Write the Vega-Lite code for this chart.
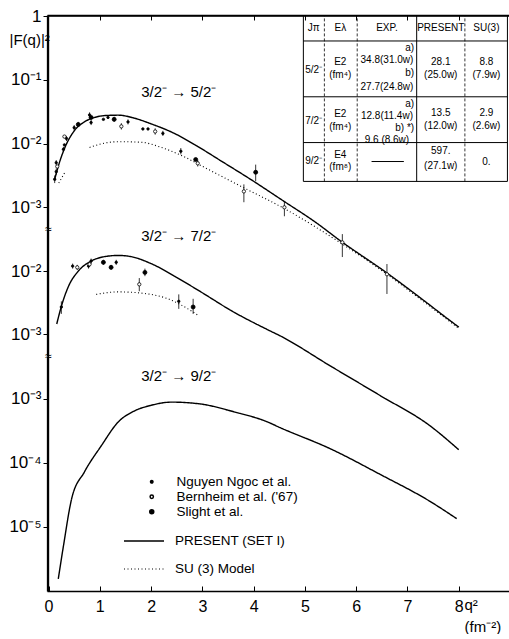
{
  "$schema": "https://vega.github.io/schema/vega-lite/v6.json",
  "background": "white",
  "padding": {"left": 8, "top": 7, "right": 0, "bottom": 0},
  "spacing": 0,
  "bounds": "flush",
  "config": {
    "view": {"stroke": null},
    "font": "Liberation Sans",
    "axis": {"domain": true, "ticks": true, "domainColor": "black", "tickColor": "black", "labelColor": "black", "titleColor": "black", "grid": false, "labelFont": "Liberation Sans", "titleFont": "Liberation Sans", "domainWidth": 1.3, "tickWidth": 1},
    "text": {"font": "Liberation Sans", "color": "black"},
    "legend": {"padding": 0, "labelFont": "Liberation Sans", "labelColor": "black"}
  },
  "datasets": {
    "curves": [
      {"panel": "5/2", "model": "PRESENT (SET I)", "seg": 1, "q2": 0.12, "F": 0.00275},
      {"panel": "5/2", "model": "PRESENT (SET I)", "seg": 1, "q2": 0.2, "F": 0.00468},
      {"panel": "5/2", "model": "PRESENT (SET I)", "seg": 1, "q2": 0.31, "F": 0.00832},
      {"panel": "5/2", "model": "PRESENT (SET I)", "seg": 1, "q2": 0.5, "F": 0.0158},
      {"panel": "5/2", "model": "PRESENT (SET I)", "seg": 1, "q2": 0.7, "F": 0.0219},
      {"panel": "5/2", "model": "PRESENT (SET I)", "seg": 1, "q2": 0.9, "F": 0.0257},
      {"panel": "5/2", "model": "PRESENT (SET I)", "seg": 1, "q2": 1.1, "F": 0.0275},
      {"panel": "5/2", "model": "PRESENT (SET I)", "seg": 1, "q2": 1.36, "F": 0.0279},
      {"panel": "5/2", "model": "PRESENT (SET I)", "seg": 1, "q2": 1.67, "F": 0.0251},
      {"panel": "5/2", "model": "PRESENT (SET I)", "seg": 1, "q2": 2.0, "F": 0.0204},
      {"panel": "5/2", "model": "PRESENT (SET I)", "seg": 1, "q2": 2.45, "F": 0.0145},
      {"panel": "5/2", "model": "PRESENT (SET I)", "seg": 1, "q2": 2.9, "F": 0.0091},
      {"panel": "5/2", "model": "PRESENT (SET I)", "seg": 1, "q2": 3.4, "F": 0.00513},
      {"panel": "5/2", "model": "PRESENT (SET I)", "seg": 1, "q2": 3.94, "F": 0.00275},
      {"panel": "5/2", "model": "PRESENT (SET I)", "seg": 1, "q2": 4.58, "F": 0.00126},
      {"panel": "5/2", "model": "PRESENT (SET I)", "seg": 1, "q2": 5.2, "F": 0.000589},
      {"panel": "5/2", "model": "PRESENT (SET I)", "seg": 1, "q2": 5.7, "F": 0.000295},
      {"panel": "5/2", "model": "PRESENT (SET I)", "seg": 1, "q2": 6.6, "F": 0.0000933},
      {"panel": "5/2", "model": "PRESENT (SET I)", "seg": 1, "q2": 7.3, "F": 0.0000355},
      {"panel": "5/2", "model": "PRESENT (SET I)", "seg": 1, "q2": 7.77, "F": 0.0000182},
      {"panel": "5/2", "model": "PRESENT (SET I)", "seg": 1, "q2": 8.0, "F": 0.0000132},
      {"panel": "5/2", "model": "SU (3) Model", "seg": 1, "q2": 0.2, "F": 0.0024},
      {"panel": "5/2", "model": "SU (3) Model", "seg": 1, "q2": 0.32, "F": 0.00355},
      {"panel": "5/2", "model": "SU (3) Model", "seg": 2, "q2": 0.8, "F": 0.0087},
      {"panel": "5/2", "model": "SU (3) Model", "seg": 2, "q2": 1.0, "F": 0.00977},
      {"panel": "5/2", "model": "SU (3) Model", "seg": 2, "q2": 1.36, "F": 0.0107},
      {"panel": "5/2", "model": "SU (3) Model", "seg": 2, "q2": 1.8, "F": 0.0105},
      {"panel": "5/2", "model": "SU (3) Model", "seg": 2, "q2": 2.2, "F": 0.0087},
      {"panel": "5/2", "model": "SU (3) Model", "seg": 2, "q2": 2.6, "F": 0.00646},
      {"panel": "5/2", "model": "SU (3) Model", "seg": 2, "q2": 3.03, "F": 0.00427},
      {"panel": "5/2", "model": "SU (3) Model", "seg": 2, "q2": 3.75, "F": 0.00214},
      {"panel": "5/2", "model": "SU (3) Model", "seg": 2, "q2": 4.6, "F": 0.000955},
      {"panel": "5/2", "model": "SU (3) Model", "seg": 2, "q2": 5.7, "F": 0.000275},
      {"panel": "5/2", "model": "SU (3) Model", "seg": 2, "q2": 6.6, "F": 0.0000891},
      {"panel": "5/2", "model": "SU (3) Model", "seg": 2, "q2": 7.3, "F": 0.0000339},
      {"panel": "5/2", "model": "SU (3) Model", "seg": 2, "q2": 8.0, "F": 0.0000126},
      {"panel": "7/2", "model": "PRESENT (SET I)", "seg": 1, "q2": 0.16, "F": 0.001445},
      {"panel": "7/2", "model": "PRESENT (SET I)", "seg": 1, "q2": 0.25, "F": 0.00275},
      {"panel": "7/2", "model": "PRESENT (SET I)", "seg": 1, "q2": 0.39, "F": 0.00575},
      {"panel": "7/2", "model": "PRESENT (SET I)", "seg": 1, "q2": 0.58, "F": 0.01},
      {"panel": "7/2", "model": "PRESENT (SET I)", "seg": 1, "q2": 0.83, "F": 0.01445},
      {"panel": "7/2", "model": "PRESENT (SET I)", "seg": 1, "q2": 1.09, "F": 0.017},
      {"panel": "7/2", "model": "PRESENT (SET I)", "seg": 1, "q2": 1.36, "F": 0.01778},
      {"panel": "7/2", "model": "PRESENT (SET I)", "seg": 1, "q2": 1.61, "F": 0.017},
      {"panel": "7/2", "model": "PRESENT (SET I)", "seg": 1, "q2": 2.0, "F": 0.01318},
      {"panel": "7/2", "model": "PRESENT (SET I)", "seg": 1, "q2": 2.52, "F": 0.00776},
      {"panel": "7/2", "model": "PRESENT (SET I)", "seg": 1, "q2": 2.97, "F": 0.00468},
      {"panel": "7/2", "model": "PRESENT (SET I)", "seg": 1, "q2": 3.61, "F": 0.00224},
      {"panel": "7/2", "model": "PRESENT (SET I)", "seg": 1, "q2": 4.27, "F": 0.001175},
      {"panel": "7/2", "model": "PRESENT (SET I)", "seg": 1, "q2": 4.52, "F": 0.000933},
      {"panel": "7/2", "model": "PRESENT (SET I)", "seg": 1, "q2": 5.5, "F": 0.000309},
      {"panel": "7/2", "model": "PRESENT (SET I)", "seg": 1, "q2": 6.47, "F": 0.0001047},
      {"panel": "7/2", "model": "PRESENT (SET I)", "seg": 1, "q2": 7.44, "F": 0.0000347},
      {"panel": "7/2", "model": "PRESENT (SET I)", "seg": 1, "q2": 8.0, "F": 0.00001445},
      {"panel": "7/2", "model": "SU (3) Model", "seg": 1, "q2": 0.93, "F": 0.00427},
      {"panel": "7/2", "model": "SU (3) Model", "seg": 1, "q2": 1.36, "F": 0.00468},
      {"panel": "7/2", "model": "SU (3) Model", "seg": 1, "q2": 1.81, "F": 0.00447},
      {"panel": "7/2", "model": "SU (3) Model", "seg": 1, "q2": 2.33, "F": 0.00363},
      {"panel": "7/2", "model": "SU (3) Model", "seg": 1, "q2": 2.78, "F": 0.00234},
      {"panel": "7/2", "model": "SU (3) Model", "seg": 1, "q2": 2.93, "F": 0.00195},
      {"panel": "9/2", "model": "PRESENT (SET I)", "seg": 1, "q2": 0.19, "F": 0.00000155},
      {"panel": "9/2", "model": "PRESENT (SET I)", "seg": 1, "q2": 0.29, "F": 0.00000501},
      {"panel": "9/2", "model": "PRESENT (SET I)", "seg": 1, "q2": 0.45, "F": 0.0000275},
      {"panel": "9/2", "model": "PRESENT (SET I)", "seg": 1, "q2": 0.7, "F": 0.0000724},
      {"panel": "9/2", "model": "PRESENT (SET I)", "seg": 1, "q2": 1.03, "F": 0.000186},
      {"panel": "9/2", "model": "PRESENT (SET I)", "seg": 1, "q2": 1.36, "F": 0.000437},
      {"panel": "9/2", "model": "PRESENT (SET I)", "seg": 1, "q2": 1.67, "F": 0.000646},
      {"panel": "9/2", "model": "PRESENT (SET I)", "seg": 1, "q2": 2.0, "F": 0.000794},
      {"panel": "9/2", "model": "PRESENT (SET I)", "seg": 1, "q2": 2.4, "F": 0.000891},
      {"panel": "9/2", "model": "PRESENT (SET I)", "seg": 1, "q2": 2.97, "F": 0.000832},
      {"panel": "9/2", "model": "PRESENT (SET I)", "seg": 1, "q2": 3.61, "F": 0.000631},
      {"panel": "9/2", "model": "PRESENT (SET I)", "seg": 1, "q2": 4.27, "F": 0.000437},
      {"panel": "9/2", "model": "PRESENT (SET I)", "seg": 1, "q2": 4.52, "F": 0.000355},
      {"panel": "9/2", "model": "PRESENT (SET I)", "seg": 1, "q2": 5.5, "F": 0.000166},
      {"panel": "9/2", "model": "PRESENT (SET I)", "seg": 1, "q2": 6.47, "F": 0.0000661},
      {"panel": "9/2", "model": "PRESENT (SET I)", "seg": 1, "q2": 7.44, "F": 0.0000251},
      {"panel": "9/2", "model": "PRESENT (SET I)", "seg": 1, "q2": 7.96, "F": 0.0000135}
    ],
    "points": [
      {"panel": "5/2", "source": "Nguyen Ngoc et al.", "q2": 0.12, "F": 0.00275, "lo": 0.0024, "hi": 0.00316},
      {"panel": "5/2", "source": "Nguyen Ngoc et al.", "q2": 0.15, "F": 0.00363, "lo": 0.00324, "hi": 0.00407},
      {"panel": "5/2", "source": "Bernheim et al. ('67)", "q2": 0.17, "F": 0.00437},
      {"panel": "5/2", "source": "Nguyen Ngoc et al.", "q2": 0.15, "F": 0.00501, "lo": 0.00457, "hi": 0.0055},
      {"panel": "5/2", "source": "Nguyen Ngoc et al.", "q2": 0.29, "F": 0.00813, "lo": 0.00741, "hi": 0.00891},
      {"panel": "5/2", "source": "Nguyen Ngoc et al.", "q2": 0.31, "F": 0.00955},
      {"panel": "5/2", "source": "Nguyen Ngoc et al.", "q2": 0.35, "F": 0.01202, "lo": 0.01096, "hi": 0.01318},
      {"panel": "5/2", "source": "Bernheim et al. ('67)", "q2": 0.31, "F": 0.01288},
      {"panel": "5/2", "source": "Nguyen Ngoc et al.", "q2": 0.5, "F": 0.01778, "lo": 0.01622, "hi": 0.0195},
      {"panel": "5/2", "source": "Slight et al.", "q2": 0.58, "F": 0.01995, "lo": 0.0182, "hi": 0.02188},
      {"panel": "5/2", "source": "Nguyen Ngoc et al.", "q2": 0.8, "F": 0.02818, "lo": 0.0257, "hi": 0.0309},
      {"panel": "5/2", "source": "Slight et al.", "q2": 0.83, "F": 0.0257},
      {"panel": "5/2", "source": "Nguyen Ngoc et al.", "q2": 0.83, "F": 0.02138, "lo": 0.0195, "hi": 0.02344},
      {"panel": "5/2", "source": "Nguyen Ngoc et al.", "q2": 1.07, "F": 0.02399},
      {"panel": "5/2", "source": "Nguyen Ngoc et al.", "q2": 1.16, "F": 0.0257},
      {"panel": "5/2", "source": "Slight et al.", "q2": 1.28, "F": 0.02399, "lo": 0.02188, "hi": 0.0263},
      {"panel": "5/2", "source": "Bernheim et al. ('67)", "q2": 1.42, "F": 0.01862, "lo": 0.0166, "hi": 0.02089},
      {"panel": "5/2", "source": "Nguyen Ngoc et al.", "q2": 1.55, "F": 0.02188, "lo": 0.01995, "hi": 0.02399},
      {"panel": "5/2", "source": "Nguyen Ngoc et al.", "q2": 1.84, "F": 0.01698},
      {"panel": "5/2", "source": "Nguyen Ngoc et al.", "q2": 1.94, "F": 0.01698},
      {"panel": "5/2", "source": "Bernheim et al. ('67)", "q2": 2.08, "F": 0.01549, "lo": 0.0138, "hi": 0.01738},
      {"panel": "5/2", "source": "Nguyen Ngoc et al.", "q2": 2.23, "F": 0.01445, "lo": 0.01318, "hi": 0.01585},
      {"panel": "5/2", "source": "Nguyen Ngoc et al.", "q2": 2.58, "F": 0.00759, "lo": 0.00676, "hi": 0.00851},
      {"panel": "5/2", "source": "Slight et al.", "q2": 2.87, "F": 0.00562},
      {"panel": "5/2", "source": "Bernheim et al. ('67)", "q2": 2.91, "F": 0.0049, "lo": 0.00437, "hi": 0.0055},
      {"panel": "5/2", "source": "Bernheim et al. ('67)", "q2": 3.81, "F": 0.001778, "lo": 0.001202, "hi": 0.002291},
      {"panel": "5/2", "source": "Slight et al.", "q2": 4.04, "F": 0.003548, "lo": 0.00257, "hi": 0.004677},
      {"panel": "5/2", "source": "Bernheim et al. ('67)", "q2": 4.6, "F": 0.001, "lo": 0.000724, "hi": 0.00123},
      {"panel": "5/2", "source": "Bernheim et al. ('67)", "q2": 5.73, "F": 0.000282, "lo": 0.000166, "hi": 0.00038},
      {"panel": "5/2", "source": "Bernheim et al. ('67)", "q2": 6.6, "F": 0.0000891, "lo": 0.0000437, "hi": 0.000129},
      {"panel": "7/2", "source": "Nguyen Ngoc et al.", "q2": 0.25, "F": 0.00269, "lo": 0.00209, "hi": 0.00331},
      {"panel": "7/2", "source": "Nguyen Ngoc et al.", "q2": 0.47, "F": 0.01202, "lo": 0.01096, "hi": 0.01318},
      {"panel": "7/2", "source": "Bernheim et al. ('67)", "q2": 0.56, "F": 0.01148, "lo": 0.01047, "hi": 0.01259},
      {"panel": "7/2", "source": "Nguyen Ngoc et al.", "q2": 0.78, "F": 0.01202, "lo": 0.01096, "hi": 0.01318},
      {"panel": "7/2", "source": "Bernheim et al. ('67)", "q2": 0.8, "F": 0.01288},
      {"panel": "7/2", "source": "Nguyen Ngoc et al.", "q2": 0.83, "F": 0.01445, "lo": 0.01318, "hi": 0.01585},
      {"panel": "7/2", "source": "Slight et al.", "q2": 1.07, "F": 0.0138, "lo": 0.01259, "hi": 0.01514},
      {"panel": "7/2", "source": "Slight et al.", "q2": 1.22, "F": 0.01148, "lo": 0.01047, "hi": 0.01259},
      {"panel": "7/2", "source": "Nguyen Ngoc et al.", "q2": 1.32, "F": 0.0138, "lo": 0.01259, "hi": 0.01514},
      {"panel": "7/2", "source": "Bernheim et al. ('67)", "q2": 1.77, "F": 0.00617, "lo": 0.00479, "hi": 0.00776},
      {"panel": "7/2", "source": "Slight et al.", "q2": 1.88, "F": 0.00955, "lo": 0.00832, "hi": 0.01096},
      {"panel": "7/2", "source": "Nguyen Ngoc et al.", "q2": 2.54, "F": 0.00331, "lo": 0.00251, "hi": 0.00427},
      {"panel": "7/2", "source": "Slight et al.", "q2": 2.82, "F": 0.00269, "lo": 0.00209, "hi": 0.00363}
    ],
    "labels": [
      {"panel": "5/2", "q2": 2.54, "F": 0.0649, "t": "3/2⁻ → 5/2⁻"},
      {"panel": "7/2", "q2": 2.54, "F": 0.0363, "t": "3/2⁻ → 7/2⁻"},
      {"panel": "9/2", "q2": 2.54, "F": 0.00229, "t": "3/2⁻ → 9/2⁻"}
    ],
    "breaks": [
      {"panel": "5/2", "q2": 0, "F": 0.000457, "t": "≈"},
      {"panel": "7/2", "q2": 0, "F": 0.000447, "t": "≈"}
    ],
    "frameV": [
      {"panel": "5/2", "q2": 0, "F": 0.000457, "F2": 1},
      {"panel": "7/2", "q2": 0, "F": 0.000447, "F2": 0.0468},
      {"panel": "9/2", "q2": 0, "F": 0.000001, "F2": 0.00468}
    ],
    "frameH": [
      {"panel": "5/2", "q2": 0, "q2b": 9, "F": 1}
    ],
    "tableH": [
      {"q2": 4.97, "q2b": 8.95, "F": 0.407},
      {"q2": 4.97, "q2b": 8.95, "F": 0.0542},
      {"q2": 4.97, "q2b": 8.95, "F": 0.01037},
      {"q2": 4.97, "q2b": 8.95, "F": 0.00255},
      {"q2": 6.3, "q2b": 6.93, "F": 0.00523}
    ],
    "tableV": [
      {"q2": 4.97, "F": 0.00255, "F2": 1, "kind": "border"},
      {"q2": 7.18, "F": 0.00255, "F2": 1, "kind": "border"},
      {"q2": 8.95, "F": 0.00255, "F2": 1, "kind": "border"},
      {"q2": 5.38, "F": 0.00255, "F2": 1, "kind": "divider"},
      {"q2": 6.02, "F": 0.00255, "F2": 1, "kind": "divider"},
      {"q2": 8.12, "F": 0.00255, "F2": 1, "kind": "divider"}
    ],
    "tableC": [
      {"q2": 5.17, "F": 0.649, "t": "Jπ"},
      {"q2": 5.69, "F": 0.649, "t": "Eλ"},
      {"q2": 6.6, "F": 0.649, "t": "EXP."},
      {"q2": 7.65, "F": 0.649, "t": "PRESENT"},
      {"q2": 8.54, "F": 0.649, "t": "SU(3)"},
      {"q2": 5.17, "F": 0.1433, "t": "5/2⁻"},
      {"q2": 5.69, "F": 0.191, "t": "E2"},
      {"q2": 5.69, "F": 0.1197, "t": "(fm⁴)"},
      {"q2": 6.6, "F": 0.2054, "t": "34.8(31.0w)"},
      {"q2": 6.6, "F": 0.0778, "t": "27.7(24.8w)"},
      {"q2": 7.65, "F": 0.191, "t": "28.1"},
      {"q2": 7.65, "F": 0.1197, "t": "(25.0w)"},
      {"q2": 8.54, "F": 0.191, "t": "8.8"},
      {"q2": 8.54, "F": 0.1197, "t": "(7.9w)"},
      {"q2": 5.17, "F": 0.0229, "t": "7/2⁻"},
      {"q2": 5.69, "F": 0.0294, "t": "E2"},
      {"q2": 5.69, "F": 0.01845, "t": "(fm⁴)"},
      {"q2": 6.6, "F": 0.0274, "t": "12.8(11.4w)"},
      {"q2": 6.6, "F": 0.01155, "t": "9.6 (8.6w)"},
      {"q2": 7.65, "F": 0.0305, "t": "13.5"},
      {"q2": 7.65, "F": 0.0191, "t": "(12.0w)"},
      {"q2": 8.54, "F": 0.0305, "t": "2.9"},
      {"q2": 8.54, "F": 0.0191, "t": "(2.6w)"},
      {"q2": 5.17, "F": 0.00542, "t": "9/2⁻"},
      {"q2": 5.69, "F": 0.00673, "t": "E4"},
      {"q2": 5.69, "F": 0.00422, "t": "(fm⁸)"},
      {"q2": 7.65, "F": 0.00778, "t": "597."},
      {"q2": 7.65, "F": 0.00437, "t": "(27.1w)"},
      {"q2": 8.54, "F": 0.00523, "t": "0."}
    ],
    "tableR": [
      {"q2": 7.13, "F": 0.316, "t": "a)"},
      {"q2": 7.13, "F": 0.1286, "t": "b)"},
      {"q2": 7.13, "F": 0.0422, "t": "a)"},
      {"q2": 7.13, "F": 0.01778, "t": "b)  *)"}
    ]
  },
  "vconcat": [
    {
      "width": 463,
      "height": 214,
      "encoding": {
        "x": {"field": "q2", "type": "quantitative", "scale": {"domain": [-0.03, 9], "nice": false, "zero": false}, "axis": {"orient": "top", "labels": false, "values": [1, 2, 3, 4, 5, 6, 7, 8], "tickSize": -5, "title": null}},
        "y": {"field": "F", "type": "quantitative", "scale": {"type": "log", "domain": [0.000457, 1.04], "nice": false}, "axis": {"values": [1, 0.1, 0.01, 0.001], "labelExpr": "round(log(datum.value)/LN10)==0 ? '1' : round(log(datum.value)/LN10)==-1 ? '10⁻¹' : round(log(datum.value)/LN10)==-2 ? '10⁻²' : '10⁻³'", "labelFontSize": 17, "tickSize": 4, "labelPadding": 2, "title": "|F(q)|²", "titleAngle": 0, "titleAlign": "left", "titleBaseline": "middle", "titleX": -38, "titleY": 24, "titleFontSize": 15, "titleFontWeight": "normal"}}
      },
      "layer": [
        {
          "data": {"name": "curves"},
          "transform": [{"filter": "datum.panel == '5/2'"}],
          "mark": {"type": "line", "color": "black", "interpolate": "monotone"},
          "encoding": {
            "strokeDash": {"field": "model", "type": "nominal", "scale": {"domain": ["PRESENT (SET I)", "SU (3) Model"], "range": [[1, 0], [1, 2.5]]}, "legend": {"title": null, "orient": "none", "legendX": 76, "legendY": 505, "symbolType": "stroke", "symbolSize": 1600, "symbolStrokeWidth": 1.3, "symbolStrokeColor": "black", "labelFontSize": 13.5, "labelOffset": 10, "rowPadding": 0}},
            "strokeWidth": {"field": "model", "type": "nominal", "scale": {"domain": ["PRESENT (SET I)", "SU (3) Model"], "range": [1.4, 1.1]}, "legend": null},
            "detail": {"field": "seg"}
          }
        },
        {
          "data": {"name": "points"},
          "transform": [{"filter": "datum.panel == '5/2' && isValid(datum.lo)"}],
          "mark": {"type": "rule", "color": "black", "strokeWidth": 0.8},
          "encoding": {
            "y": {"field": "lo", "type": "quantitative", "scale": {"type": "log", "domain": [0.000457, 1.04], "nice": false}, "axis": {"values": [1, 0.1, 0.01, 0.001], "labelExpr": "round(log(datum.value)/LN10)==0 ? '1' : round(log(datum.value)/LN10)==-1 ? '10⁻¹' : round(log(datum.value)/LN10)==-2 ? '10⁻²' : '10⁻³'", "labelFontSize": 17, "tickSize": 4, "labelPadding": 2, "title": "|F(q)|²", "titleAngle": 0, "titleAlign": "left", "titleBaseline": "middle", "titleX": -38, "titleY": 24, "titleFontSize": 15, "titleFontWeight": "normal"}},
            "y2": {"field": "hi"}
          }
        },
        {
          "data": {"name": "points"},
          "transform": [{"filter": "datum.panel == '5/2'"}],
          "mark": {"type": "point", "stroke": "black", "strokeWidth": 0.8, "opacity": 1},
          "encoding": {
            "fill": {"field": "source", "type": "nominal", "scale": {"domain": ["Nguyen Ngoc et al.", "Bernheim et al. ('67)", "Slight et al."], "range": ["black", "white", "black"]}, "legend": {"title": null, "orient": "none", "legendX": 98, "legendY": 460, "labelFontSize": 13.5, "labelOffset": 18, "rowPadding": 0, "encode": {"symbols": {"update": {"stroke": {"value": "black"}, "strokeWidth": {"value": 0.8}}}}}},
            "size": {"field": "source", "type": "nominal", "scale": {"domain": ["Nguyen Ngoc et al.", "Bernheim et al. ('67)", "Slight et al."], "range": [6, 16, 22]}, "legend": {"title": null, "orient": "none", "legendX": 98, "legendY": 460, "labelFontSize": 13.5, "labelOffset": 18, "rowPadding": 0, "encode": {"symbols": {"update": {"stroke": {"value": "black"}, "strokeWidth": {"value": 0.8}}}}}}
          }
        },
        {
          "data": {"name": "labels"},
          "transform": [{"filter": "datum.panel == '5/2'"}],
          "mark": {"type": "text", "fontSize": 15, "align": "center", "baseline": "middle"},
          "encoding": {"text": {"field": "t"}}
        },
        {
          "data": {"name": "breaks"},
          "transform": [{"filter": "datum.panel == '5/2'"}],
          "mark": {"type": "text", "fontSize": 12, "align": "center", "baseline": "middle"},
          "encoding": {"text": {"field": "t"}}
        },
        {
          "data": {"name": "tableH"},
          "mark": {"type": "rule", "color": "black", "strokeWidth": 1},
          "encoding": {"x2": {"field": "q2b"}}
        },
        {
          "data": {"name": "tableV"},
          "transform": [{"filter": "datum.kind == 'border'"}],
          "mark": {"type": "rule", "color": "black", "strokeWidth": 1},
          "encoding": {"y2": {"field": "F2"}}
        },
        {
          "data": {"name": "tableV"},
          "transform": [{"filter": "datum.kind == 'divider'"}],
          "mark": {"type": "rule", "color": "black", "strokeWidth": 0.8, "strokeDash": [3, 2]},
          "encoding": {"y2": {"field": "F2"}}
        },
        {
          "data": {"name": "tableC"},
          "mark": {"type": "text", "fontSize": 10, "align": "center", "baseline": "middle"},
          "encoding": {"text": {"field": "t"}}
        },
        {
          "data": {"name": "tableR"},
          "mark": {"type": "text", "fontSize": 10, "align": "right", "baseline": "middle"},
          "encoding": {"text": {"field": "t"}}
        },
        {
          "data": {"name": "frameV"},
          "transform": [{"filter": "datum.panel == '5/2'"}],
          "mark": {"type": "rule", "color": "black", "strokeWidth": 1.3},
          "encoding": {"y2": {"field": "F2"}}
        },
        {
          "data": {"name": "frameH"},
          "transform": [{"filter": "datum.panel == '5/2'"}],
          "mark": {"type": "rule", "color": "black", "strokeWidth": 1.3},
          "encoding": {"x2": {"field": "q2b"}}
        }
      ]
    },
    {
      "width": 463,
      "height": 127,
      "encoding": {
        "x": {"field": "q2", "type": "quantitative", "scale": {"domain": [-0.03, 9], "nice": false, "zero": false}, "axis": null},
        "y": {"field": "F", "type": "quantitative", "scale": {"type": "log", "domain": [0.000447, 0.0468], "nice": false}, "axis": {"values": [0.01, 0.001], "labelExpr": "round(log(datum.value)/LN10)==-2 ? '10⁻²' : '10⁻³'", "labelFontSize": 17, "tickSize": 4, "labelPadding": 2, "title": null}}
      },
      "layer": [
        {
          "data": {"name": "curves"},
          "transform": [{"filter": "datum.panel == '7/2'"}],
          "mark": {"type": "line", "color": "black", "interpolate": "monotone"},
          "encoding": {
            "strokeDash": {"field": "model", "type": "nominal", "scale": {"domain": ["PRESENT (SET I)", "SU (3) Model"], "range": [[1, 0], [1, 2.5]]}, "legend": {"title": null, "orient": "none", "legendX": 76, "legendY": 505, "symbolType": "stroke", "symbolSize": 1600, "symbolStrokeWidth": 1.3, "symbolStrokeColor": "black", "labelFontSize": 13.5, "labelOffset": 10, "rowPadding": 0}},
            "strokeWidth": {"field": "model", "type": "nominal", "scale": {"domain": ["PRESENT (SET I)", "SU (3) Model"], "range": [1.4, 1.1]}, "legend": null},
            "detail": {"field": "seg"}
          }
        },
        {
          "data": {"name": "points"},
          "transform": [{"filter": "datum.panel == '7/2' && isValid(datum.lo)"}],
          "mark": {"type": "rule", "color": "black", "strokeWidth": 0.8},
          "encoding": {
            "y": {"field": "lo", "type": "quantitative", "scale": {"type": "log", "domain": [0.000447, 0.0468], "nice": false}, "axis": {"values": [0.01, 0.001], "labelExpr": "round(log(datum.value)/LN10)==-2 ? '10⁻²' : '10⁻³'", "labelFontSize": 17, "tickSize": 4, "labelPadding": 2, "title": null}},
            "y2": {"field": "hi"}
          }
        },
        {
          "data": {"name": "points"},
          "transform": [{"filter": "datum.panel == '7/2'"}],
          "mark": {"type": "point", "stroke": "black", "strokeWidth": 0.8, "opacity": 1},
          "encoding": {
            "fill": {"field": "source", "type": "nominal", "scale": {"domain": ["Nguyen Ngoc et al.", "Bernheim et al. ('67)", "Slight et al."], "range": ["black", "white", "black"]}, "legend": {"title": null, "orient": "none", "legendX": 98, "legendY": 460, "labelFontSize": 13.5, "labelOffset": 18, "rowPadding": 0, "encode": {"symbols": {"update": {"stroke": {"value": "black"}, "strokeWidth": {"value": 0.8}}}}}},
            "size": {"field": "source", "type": "nominal", "scale": {"domain": ["Nguyen Ngoc et al.", "Bernheim et al. ('67)", "Slight et al."], "range": [6, 16, 22]}, "legend": {"title": null, "orient": "none", "legendX": 98, "legendY": 460, "labelFontSize": 13.5, "labelOffset": 18, "rowPadding": 0, "encode": {"symbols": {"update": {"stroke": {"value": "black"}, "strokeWidth": {"value": 0.8}}}}}}
          }
        },
        {
          "data": {"name": "labels"},
          "transform": [{"filter": "datum.panel == '7/2'"}],
          "mark": {"type": "text", "fontSize": 15, "align": "center", "baseline": "middle"},
          "encoding": {"text": {"field": "t"}}
        },
        {
          "data": {"name": "breaks"},
          "transform": [{"filter": "datum.panel == '7/2'"}],
          "mark": {"type": "text", "fontSize": 12, "align": "center", "baseline": "middle"},
          "encoding": {"text": {"field": "t"}}
        },
        {
          "data": {"name": "frameV"},
          "transform": [{"filter": "datum.panel == '7/2'"}],
          "mark": {"type": "rule", "color": "black", "strokeWidth": 1.3},
          "encoding": {"y2": {"field": "F2"}}
        }
      ]
    },
    {
      "width": 463,
      "height": 235,
      "encoding": {
        "x": {"field": "q2", "type": "quantitative", "scale": {"domain": [-0.03, 9], "nice": false, "zero": false}, "axis": {"orient": "bottom", "values": [0, 1, 2, 3, 4, 5, 6, 7, 8], "labelFontSize": 16, "tickSize": -5, "labelPadding": 12, "labelFlush": false, "title": ["q²", "(fm⁻²)"], "titleX": 417, "titleY": 6, "titleAlign": "left", "titleBaseline": "top", "titleFontSize": 15, "titleFontWeight": "normal", "titleLineHeight": 22}},
        "y": {"field": "F", "type": "quantitative", "scale": {"type": "log", "domain": [0.000001, 0.00468], "nice": false}, "axis": {"values": [0.001, 0.0001, 0.00001], "labelExpr": "round(log(datum.value)/LN10)==-3 ? '10⁻³' : round(log(datum.value)/LN10)==-4 ? '10⁻⁴' : '10⁻⁵'", "labelFontSize": 17, "tickSize": 4, "labelPadding": 2, "title": null}}
      },
      "layer": [
        {
          "data": {"name": "curves"},
          "transform": [{"filter": "datum.panel == '9/2'"}],
          "mark": {"type": "line", "color": "black", "interpolate": "monotone"},
          "encoding": {
            "strokeDash": {"field": "model", "type": "nominal", "scale": {"domain": ["PRESENT (SET I)", "SU (3) Model"], "range": [[1, 0], [1, 2.5]]}, "legend": {"title": null, "orient": "none", "legendX": 76, "legendY": 505, "symbolType": "stroke", "symbolSize": 1600, "symbolStrokeWidth": 1.3, "symbolStrokeColor": "black", "labelFontSize": 13.5, "labelOffset": 10, "rowPadding": 0}},
            "strokeWidth": {"field": "model", "type": "nominal", "scale": {"domain": ["PRESENT (SET I)", "SU (3) Model"], "range": [1.4, 1.1]}, "legend": null},
            "detail": {"field": "seg"}
          }
        },
        {
          "data": {"name": "labels"},
          "transform": [{"filter": "datum.panel == '9/2'"}],
          "mark": {"type": "text", "fontSize": 15, "align": "center", "baseline": "middle"},
          "encoding": {"text": {"field": "t"}}
        },
        {
          "data": {"name": "frameV"},
          "transform": [{"filter": "datum.panel == '9/2'"}],
          "mark": {"type": "rule", "color": "black", "strokeWidth": 1.3},
          "encoding": {"y2": {"field": "F2"}}
        }
      ]
    }
  ]
}
